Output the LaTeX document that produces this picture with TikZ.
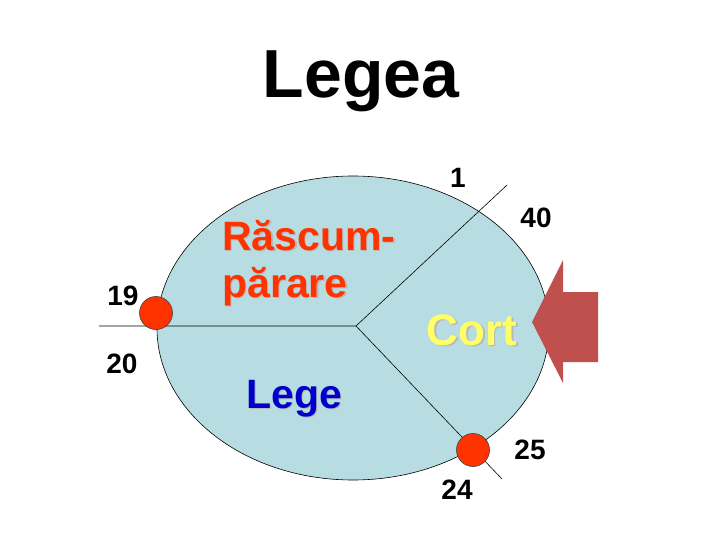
\documentclass[tikz,border=0pt]{standalone}
\usepackage{fontspec}
\setmainfont{Liberation Sans}
\usetikzlibrary{positioning}
\definecolor{ovalblue}{HTML}{B7DDE3}
\definecolor{dotred}{HTML}{FF3300}
\definecolor{arrowred}{HTML}{C0504D}
\definecolor{cortyellow}{HTML}{FFFF66}
\definecolor{legeblue}{HTML}{0000CC}
\begin{document}
\begin{tikzpicture}[x=1pt, y=-1pt, line width=0.6pt,
  num/.style = {font=\fontsize{28}{28}\selectfont\bfseries, inner sep=0pt},
  word/.style = {font=\fontsize{41}{47}\selectfont\bfseries, inner sep=0pt, align=left},
  shade/.style = {word, text=black!28},
  dot/.style = {draw=black!75, fill=dotred, circle, minimum size=33pt, inner sep=0pt}]
\useasboundingbox (0,0) rectangle (720,540);
\node[font=\fontsize{68}{68}\selectfont\bfseries, inner sep=0pt] (title) at (361,98) [anchor=base] {Legea};
% the oval
\draw[fill=ovalblue] (353,328) ellipse [x radius=196, y radius=152];
\coordinate (J) at (356,326);
\coordinate (W) at (99,326);
\coordinate (NE) at (507,185);
\coordinate (SE) at (502,479);
\draw (W) -- (J) -- (NE);
\draw (J) -- (SE);
\node[dot] (d19) at (156,313) {};
\node[dot] (d24) at (473,450) {};
% words
\node[shade] at (223.5,298.5) [anchor=base west] {Răscum-\\părare};
\node[word, text=dotred] (rasc) at (222,297) [anchor=base west] {Răscum-\\părare};
\node[shade, font=\fontsize{44}{44}\selectfont\bfseries] at (473.5,346.5) [anchor=base] {Cort};
\node[word, font=\fontsize{44}{44}\selectfont\bfseries, text=cortyellow] (cort) at (472,345) [anchor=base] {Cort};
\node[shade] at (295.5,409.5) [anchor=base] {Lege};
\node[word, text=legeblue] (lege) at (294,408) [anchor=base] {Lege};
% the arrow
\fill[arrowred] (532,322) -- (563,260) -- (563,292) -- (598,292) -- (598,362) -- (563,362) -- (563,383) -- cycle;
% numbers
\node[num] (n1) at (458,178) {1};
\node[num] (n40) at (536,218) {40};
\node[num] (n19) at (123,296) {19};
\node[num] (n20) at (122,364) {20};
\node[num] (n25) at (530,450) {25};
\node[num] (n24) at (457,490) {24};
\end{tikzpicture}
\end{document}
